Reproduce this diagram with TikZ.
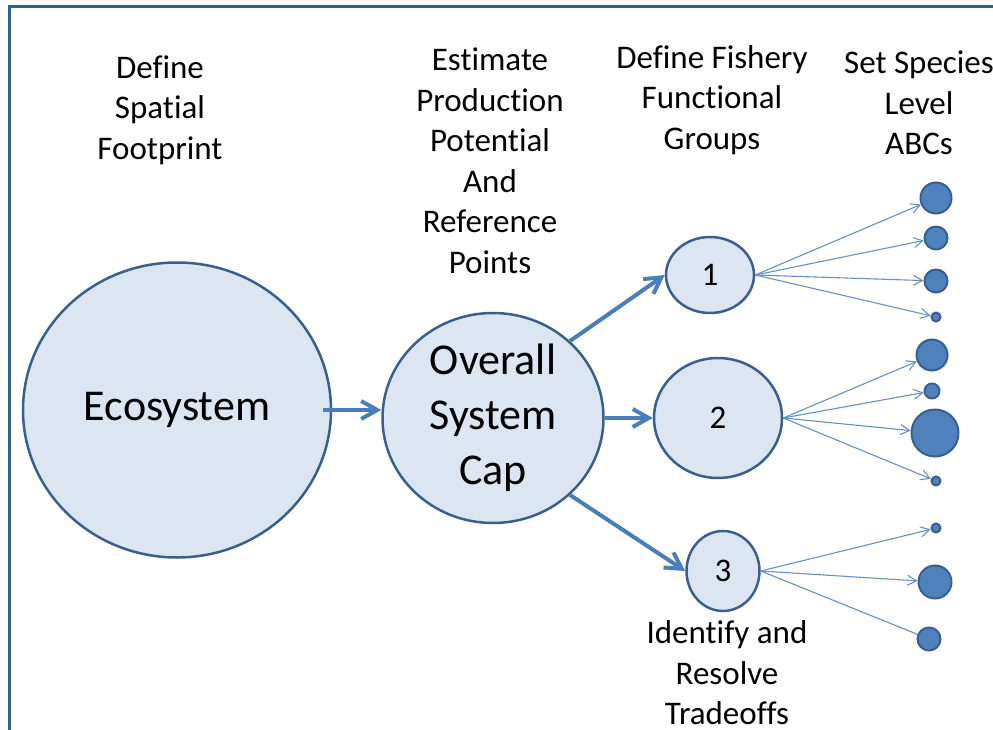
\documentclass[tikz,border=0pt]{standalone}
\usepackage{fontspec}
\setmainfont[Ligatures=NoCommon]{Carlito}
\usetikzlibrary{shapes.geometric,arrows.meta}
\definecolor{pale}{HTML}{DCE6F2}
\definecolor{rim}{HTML}{3A5F8C}
\definecolor{accent}{HTML}{4A7EBB}
\definecolor{spot}{HTML}{4F81BD}

\begin{document}
\begin{tikzpicture}[x=1pt,y=-1pt,
    bubble/.style={ellipse,draw=rim,line width=2.5pt,fill=pale,inner sep=0pt},
    species/.style={circle,draw=rim,line width=2pt,fill=spot,inner sep=0pt},
    heading/.style={align=center,inner sep=0pt,font=\fontsize{33}{40.5}\selectfont},
    bigarrow/.style={-{Straight Barb[length=16pt,width=18pt]},accent,line width=4pt},
    fan/.style={-{Straight Barb[length=9pt,width=10pt]},accent!85,line width=1.1pt}]
    \useasboundingbox (0,0) rectangle (993,730);
    \clip (0,0) rectangle (993,730);

    % Frame
    \draw[rim,line width=3pt] (9,760) -- (9,7) -- (1020,7);

    % Column headings
    \node[heading] (hspace) at (160,110) {Define\\Spatial\\Footprint};
    \node[heading] (hprod) at (490,161) {Estimate\\Production\\Potential\\And\\Reference\\Points};
    \node[heading] (hgroup) at (712,100) {Define Fishery\\Functional\\Groups};
    \node[heading] (habc) at (919,103) {Set Species\\Level\\ABCs};

    % Ecosystem and system cap
    \node[bubble,minimum width=308pt,minimum height=295pt,font=\fontsize{44}{55}\selectfont]
        (eco) at (177,410) {Ecosystem};
    \node[bubble,minimum width=221pt,minimum height=210pt,align=center,font=\fontsize{44}{55}\selectfont]
        (cap) at (493,418) {Overall\\System\\Cap};

    % Functional groups
    \node[bubble,minimum width=88pt,minimum height=76pt,font=\fontsize{33}{40}\selectfont] (g1) at (710,275) {1};
    \node[bubble,minimum width=128pt,minimum height=120pt,font=\fontsize{33}{40}\selectfont] (g2) at (718,418) {2};
    \node[bubble,minimum width=73pt,minimum height=80pt,font=\fontsize{33}{40}\selectfont] (g3) at (723,571) {3};
    \node[heading] (trade) at (727,673) {Identify and\\Resolve\\Tradeoffs};

    % Species
    \node[species,minimum size=31pt] (s11) at (936,198) {};
    \node[species,minimum size=23pt] (s12) at (936,238) {};
    \node[species,minimum size=23pt] (s13) at (936,281) {};
    \node[species,minimum size=9pt] (s14) at (936,317) {};
    \node[species,minimum size=31pt] (s21) at (932,355) {};
    \node[species,minimum size=15pt] (s22) at (932,391) {};
    \node[species,minimum size=47pt] (s23) at (935,433) {};
    \node[species,minimum size=9pt] (s24) at (936,481) {};
    \node[species,minimum size=9pt] (s31) at (936,528) {};
    \node[species,minimum size=33pt] (s32) at (935,582) {};
    \node[species,minimum size=23pt] (s33) at (929,639) {};

    % Main flow
    \draw[bigarrow] ([xshift=-9pt]eco.east) -- (eco.east -| cap.west);
    \draw[bigarrow] (cap.45) -- (g1.west);
    \draw[bigarrow] (cap.east) -- (g2.west);
    \draw[bigarrow] (cap.-45) -- (g3.west);

    % Fan out to species
    \draw[fan] (g1.east) -- (s11);
    \draw[fan] (g1.east) -- (s12);
    \draw[fan] (g1.east) -- (s13);
    \draw[fan] (g1.east) -- (s14);
    \draw[fan] (g2.east) -- (s21);
    \draw[fan] (g2.east) -- (s22);
    \draw[fan] (g2.east) -- (s23);
    \draw[fan] (g2.east) -- (s24);
    \draw[fan] (g3.east) -- (s31);
    \draw[fan] (g3.east) -- (s32);
    \draw[fan,-] (g3.east) -- (s33);
\end{tikzpicture}
\end{document}
